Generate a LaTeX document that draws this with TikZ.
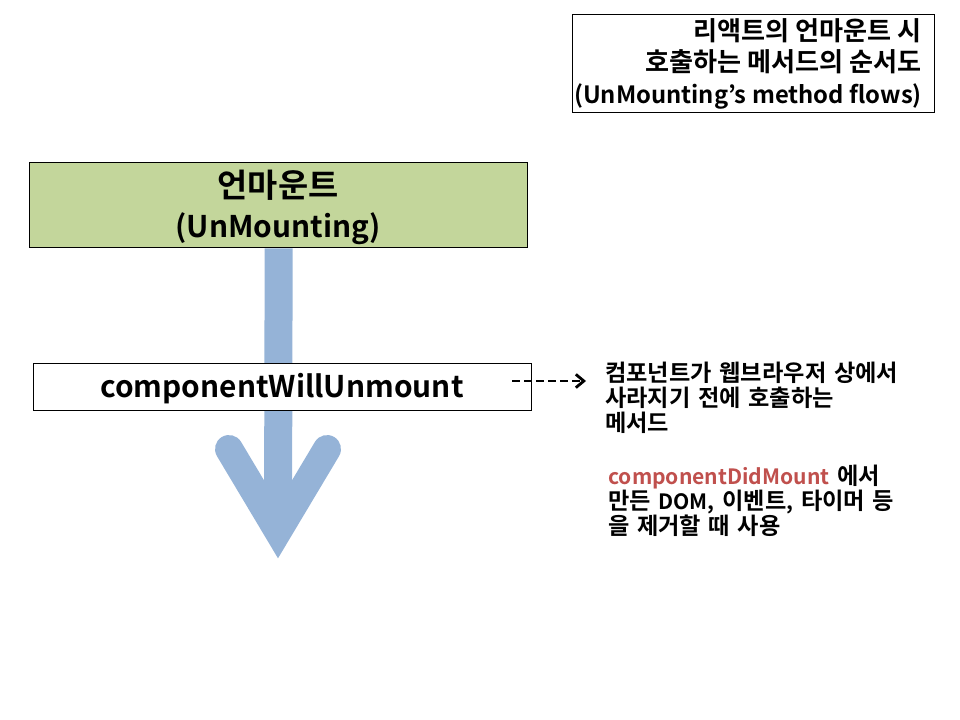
\documentclass[tikz,border=0pt]{standalone}
\usepackage{fontspec}
\setmainfont{Noto Sans CJK KR}[BoldFont={* Bold}]
\newfontfamily\latfont{Noto Sans CJK KR}[Scale=0.91,BoldFont={* Bold}]
\newcommand\lat[1]{{\latfont\bfseries #1}}
\newcommand\widesp{\spaceskip=0.33em plus 0.1em\relax}
\usetikzlibrary{arrows.meta}
\definecolor{boxgreen}{RGB}{195,214,155}
\definecolor{flowblue}{RGB}{149,179,215}
\definecolor{hired}{RGB}{192,80,77}
\tikzset{
  px/.style={x=0.75pt,y=-0.75pt},
  framebox/.style={draw=black,line width=1pt,inner sep=0pt},
  bigtxt/.style={font=\fontsize{24.6}{30}\selectfont\bfseries,align=center},
  notetxt/.style={font=\fontsize{17.4}{18.75}\selectfont\bfseries\widesp,align=left,anchor=north west,inner sep=0pt},
  flow/.style={draw=flowblue,line width=21pt},
}
\begin{document}
\begin{tikzpicture}[px]
\useasboundingbox (0,0) rectangle (960,720);
% title box
\node[framebox,minimum width=362*0.75pt,minimum height=98*0.75pt,anchor=north west] (title) at (572,14) {};
\node[font=\fontsize{19.6}{23.6}\selectfont\bfseries,align=right,anchor=north east,inner sep=0pt] (titletxt) at (922,18)
  {리액트의 언마운트 시\\호출하는 메서드의 순서도\\\lat{(UnMounting’s method flows)}};
% blue flow arrow
\coordinate (vtx) at (278,531);
\coordinate (la) at (229,449);
\coordinate (ra) at (327,449);
\node[framebox,fill=boxgreen,minimum width=498*0.75pt,minimum height=85*0.75pt,anchor=north west] (unm) at (29,162) {};
\draw[flow] (unm.south) -- (vtx);
\draw[flow,line cap=round,line join=miter] (la) -- (vtx) -- (ra);
\node[bigtxt] (unmtxt) at (278,207) {언마운트\\\lat{(UnMounting)}};
% method box
\node[framebox,fill=white,minimum width=498*0.75pt,minimum height=47*0.75pt,anchor=north west] (cwu) at (33,363) {};
\node[bigtxt] (cwutxt) at (282,389) {\lat{componentWillUnmount}};
% dashed arrow
\coordinate (dstart) at (512,381);
\coordinate (dend) at (586,381);
\draw[line width=2.1pt,dash pattern=on 6pt off 3pt,-{Straight Barb[length=6pt,width=10pt,line width=2.1pt]}] (dstart) -- (dend);
% notes
\node[notetxt] (note1) at (605,362) {컴포넌트가 웹브라우저 상에서\\사라지기 전에 호출하는\\메서드};
\node[notetxt] (note2) at (608,465) {\textcolor{hired}{\lat{componentDidMount}} 에서\\만든 \lat{DOM,} 이벤트\lat{,} 타이머 등\\을 제거할 때 사용};
\end{tikzpicture}
\end{document}
